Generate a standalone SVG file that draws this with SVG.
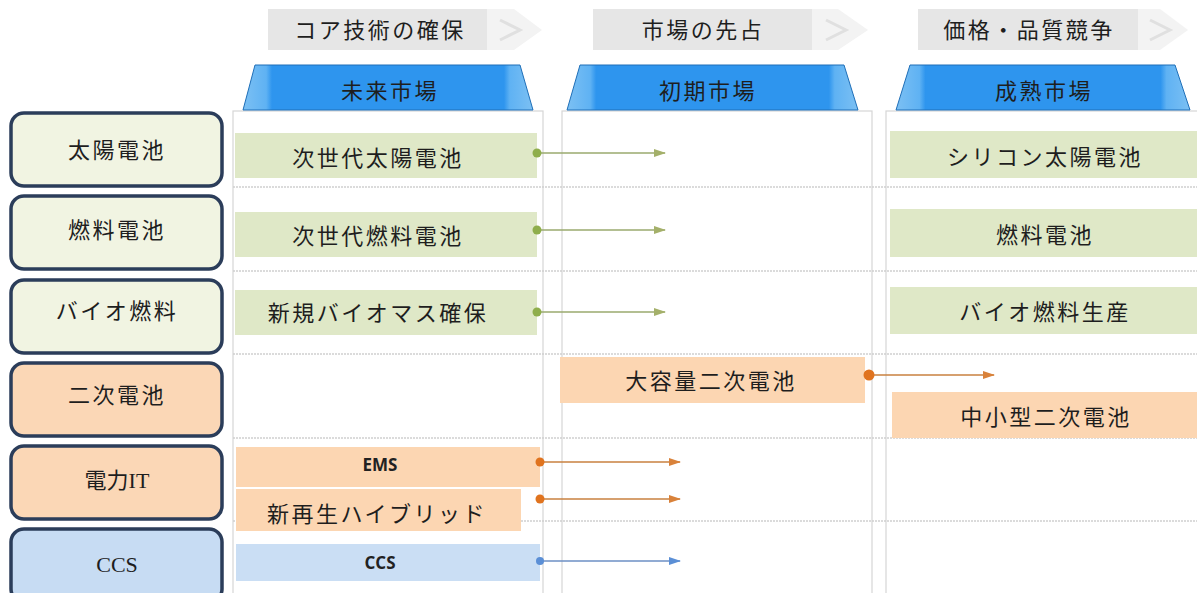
<svg xmlns="http://www.w3.org/2000/svg" width="1197" height="593" viewBox="0 0 1197 593">
<defs>
<style>
.t{font-family:"Liberation Serif","Noto Sans CJK JP",serif;font-size:22px;fill:#1e1e1e;text-anchor:middle;dominant-baseline:central;letter-spacing:2.5px}
.n{letter-spacing:0}
.b{font-family:"Open Sans","Liberation Sans",sans-serif;font-size:17px;font-weight:bold;fill:#222;text-anchor:middle;dominant-baseline:central}
.lab{stroke:#2b3d5a;stroke-width:3.5}
.g{fill:#f1f4e2}.o{fill:#fbd7b6}.bl{fill:#c7dcf3}
.gb{fill:#dfe8c7}.ob{fill:#fcd6b2}.bb{fill:#cadef4}
.panel{fill:#fff;stroke:#d6d6d6;stroke-width:1.2}
.sep{stroke:#cfcfcf;stroke-width:1.5;stroke-dasharray:2 1}
.gray{fill:#e6e6e6}
.chev{fill:#f3f3f3}
.chevl{fill:none;stroke:#e0e0e0;stroke-width:3}
.trap{fill:url(#tg);stroke:#1f6fb8;stroke-width:1}
.cg{stroke:#9aaa6e;stroke-width:1.6}
.co{stroke:#c9803f;stroke-width:1.6}
.cb{stroke:#6d8fc4;stroke-width:1.6}
</style>
<linearGradient id="tg" x1="0" y1="0" x2="1" y2="0">
<stop offset="0" stop-color="#7cc0f3"/>
<stop offset="0.08" stop-color="#5fb2f3"/>
<stop offset="0.1" stop-color="#2e95ee"/>
<stop offset="0.9" stop-color="#2e95ee"/>
<stop offset="0.92" stop-color="#5fb2f3"/>
<stop offset="1" stop-color="#7cc0f3"/>
</linearGradient>
<marker id="ag" markerWidth="12" markerHeight="10" refX="11" refY="5" orient="auto" markerUnits="userSpaceOnUse"><path d="M0,1 L12,5 L0,9 Z" fill="#a4b06a"/></marker>
<marker id="ao" markerWidth="12" markerHeight="10" refX="11" refY="5" orient="auto" markerUnits="userSpaceOnUse"><path d="M0,1 L12,5 L0,9 Z" fill="#d9823a"/></marker>
<marker id="ab" markerWidth="12" markerHeight="10" refX="11" refY="5" orient="auto" markerUnits="userSpaceOnUse"><path d="M0,1 L12,5 L0,9 Z" fill="#5b8fd6"/></marker>
</defs>
<rect width="1197" height="593" fill="#fff"/>

<!-- column panels -->
<g id="panels">
<rect class="panel" x="233" y="111" width="310" height="490"/>
<rect class="panel" x="562" y="111" width="310" height="490"/>
<rect class="panel" x="886" y="111" width="320" height="490"/>
<line class="sep" x1="233" y1="187" x2="1197" y2="187"/>
<line class="sep" x1="233" y1="271" x2="1197" y2="271"/>
<line class="sep" x1="233" y1="354" x2="1197" y2="354"/>
<line class="sep" x1="233" y1="438" x2="1197" y2="438"/>
<line class="sep" x1="233" y1="521" x2="1197" y2="521"/>
</g>

<!-- phase labels -->
<g id="phase1">
<path class="chev" d="M487,9 H514 L542,30 L514,50 H487 Z"/>
<path class="chevl" d="M500,20 L520,30 L500,40"/>
<rect class="gray" x="268" y="9" width="219" height="41"/>
<text class="t" x="380" y="30">コア技術の確保</text>
</g>
<g id="phase2">
<path class="chev" d="M812,9 H838 L868,30 L838,50 H812 Z"/>
<path class="chevl" d="M826,20 L846,30 L826,40"/>
<rect class="gray" x="593" y="9" width="219" height="41"/>
<text class="t" x="703" y="30">市場の先占</text>
</g>
<g id="phase3">
<path class="chev" d="M1138,9 H1160 L1188,30 L1160,50 H1138 Z"/>
<path class="chevl" d="M1150,20 L1170,30 L1150,40"/>
<rect class="gray" x="918" y="9" width="220" height="41"/>
<text class="t" x="1029" y="30">価格・品質競争</text>
</g>

<!-- market headers -->
<g id="h1"><path class="trap" d="M255,65 H520 L533,110 H243 Z"/><text class="t" x="390" y="91">未来市場</text></g>
<g id="h2"><path class="trap" d="M580,65 H844 L858,110 H567 Z"/><text class="t" x="708" y="91">初期市場</text></g>
<g id="h3"><path class="trap" d="M910,65 H1175 L1190,110 H896 Z"/><text class="t" x="1044" y="91">成熟市場</text></g>

<!-- row labels -->
<g id="r1"><rect class="lab g" x="11" y="113" width="211" height="73" rx="13"/><text class="t" x="117" y="150">太陽電池</text></g>
<g id="r2"><rect class="lab g" x="11" y="196" width="211" height="73" rx="13"/><text class="t" x="117" y="230">燃料電池</text></g>
<g id="r3"><rect class="lab g" x="11" y="280" width="211" height="73" rx="13"/><text class="t" x="117" y="311">バイオ燃料</text></g>
<g id="r4"><rect class="lab o" x="11" y="363" width="211" height="73" rx="13"/><text class="t" x="117" y="395">二次電池</text></g>
<g id="r5"><rect class="lab o" x="11" y="446" width="211" height="73" rx="13"/><text class="t n" x="117" y="480">電力IT</text></g>
<g id="r6"><rect class="lab bl" x="11" y="529" width="211" height="73" rx="13"/><text class="t n" x="117" y="564">CCS</text></g>

<!-- content boxes -->
<g id="n1"><rect class="gb" x="235" y="133" width="302" height="45"/><text class="t" x="378" y="158">次世代太陽電池</text></g>
<g id="n2"><rect class="gb" x="235" y="212" width="302" height="45"/><text class="t" x="378" y="236">次世代燃料電池</text></g>
<g id="n3"><rect class="gb" x="235" y="290" width="302" height="45"/><text class="t" x="378" y="313">新規バイオマス確保</text></g>
<g id="n4"><rect class="ob" x="236" y="447" width="304" height="40"/><text class="b" x="380" y="464">EMS</text></g>
<g id="n5"><rect class="ob" x="236" y="489" width="285" height="42"/><text class="t" x="377" y="514">新再生ハイブリッド</text></g>
<g id="n6"><rect class="bb" x="236" y="544" width="304" height="37"/><text class="b" x="380" y="562">CCS</text></g>
<g id="n7"><rect class="ob" x="560" y="357" width="305" height="46"/><text class="t" x="711" y="381">大容量二次電池</text></g>
<g id="n8"><rect class="gb" x="890" y="131" width="307" height="47"/><text class="t" x="1045" y="157">シリコン太陽電池</text></g>
<g id="n9"><rect class="gb" x="890" y="209" width="307" height="48"/><text class="t" x="1045" y="235">燃料電池</text></g>
<g id="n10"><rect class="gb" x="890" y="287" width="307" height="47"/><text class="t" x="1045" y="312">バイオ燃料生産</text></g>
<g id="n11"><rect class="ob" x="892" y="392" width="305" height="46"/><text class="t" x="1046" y="417">中小型二次電池</text></g>

<!-- connectors -->
<g id="connectors">
<line class="cg" x1="537" y1="153" x2="665" y2="153" marker-end="url(#ag)"/>
<circle cx="537" cy="153" r="4.5" fill="#8fae4c"/>
<line class="cg" x1="537" y1="230" x2="665" y2="230" marker-end="url(#ag)"/>
<circle cx="537" cy="230" r="4.5" fill="#8fae4c"/>
<line class="cg" x1="537" y1="312" x2="665" y2="312" marker-end="url(#ag)"/>
<circle cx="537" cy="312" r="4.5" fill="#8fae4c"/>
<line class="co" x1="869" y1="375" x2="994" y2="375" marker-end="url(#ao)"/>
<circle cx="869" cy="375" r="5.5" fill="#e0731e"/>
<line class="co" x1="540" y1="462" x2="680" y2="462" marker-end="url(#ao)"/>
<circle cx="540" cy="462" r="4.5" fill="#e0731e"/>
<line class="co" x1="540" y1="499" x2="680" y2="499" marker-end="url(#ao)"/>
<circle cx="540" cy="499" r="4.5" fill="#e0731e"/>
<line class="cb" x1="540" y1="561" x2="680" y2="561" marker-end="url(#ab)"/>
<circle cx="540" cy="561" r="4" fill="#5b8fd6"/>
</g>
</svg>
